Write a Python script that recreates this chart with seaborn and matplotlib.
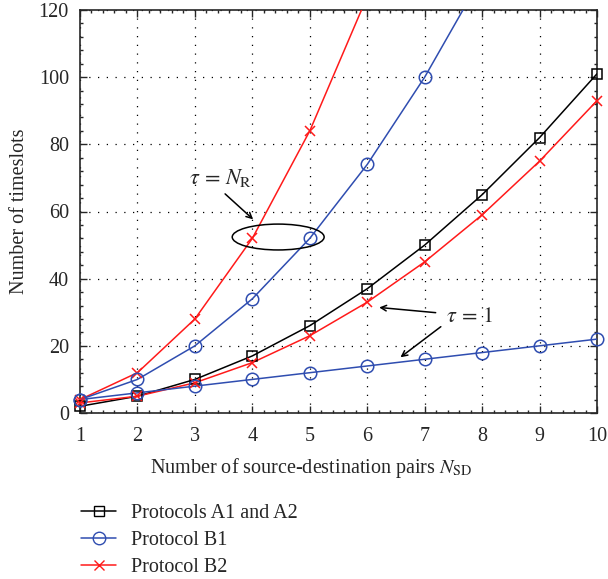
import numpy as np
import pandas as pd
import matplotlib
matplotlib.use("Agg")
import matplotlib.pyplot as plt
from matplotlib.patches import Ellipse
from matplotlib.lines import Line2D
from matplotlib.ticker import MultipleLocator
import seaborn as sns

# data
n_sd = [1, 2, 3, 4, 5, 6, 7, 8, 9, 10]
a12 = [2, 5, 10, 17, 26, 37, 50, 65, 82, 101]
b1_tau1 = [4, 6, 8, 10, 12, 14, 16, 18, 20, 22]
b2_tau1 = [3, 5, 9, 15, 23, 33, 45, 59, 75, 93]
n_b1_nr = [1, 2, 3, 4, 5, 6, 7, 8]
b1_nr = [4, 10, 20, 34, 52, 74, 100, 130]
n_b2_nr = [1, 2, 3, 4, 5, 6]
b2_nr = [4, 12, 28, 52, 84, 124]

black = "black"
blue = "#2f4db0"
red = "#ff1a1a"
styles = {"s": 7.5, "o": 9, "x": 6.5}

sns.set_style("ticks")
plt.rcParams["font.family"] = ["Liberation Serif", "DejaVu Serif"]
plt.rcParams["mathtext.fontset"] = "stix"

fig, ax = plt.subplots(figsize=(6.08, 5.79), dpi=100)
fig.subplots_adjust(left=80/608, right=597/608, top=1-10/579, bottom=1-413/579)

ax.grid(True, which="major", color="black", linestyle=(0, (1, 6)), linewidth=0.9)

def draw(x, y, color, marker, clip_last=False):
    df = pd.DataFrame({"x": x, "y": y})
    sns.lineplot(data=df, x="x", y="y", color=color, linewidth=1.1, ax=ax,
                 legend=False, zorder=3)
    pts = df.iloc[:-1] if clip_last else df
    sns.lineplot(data=pts, x="x", y="y", color=color, linestyle="", ax=ax,
                 marker=marker, markersize=styles[marker], markerfacecolor="none",
                 markeredgecolor=color, markeredgewidth=1.1, legend=False,
                 clip_on=False, zorder=4)

draw(n_b2_nr, b2_nr, red, "x", clip_last=True)
draw(n_b1_nr, b1_nr, blue, "o", clip_last=True)
draw(n_sd, a12, black, "s")
draw(n_sd, b2_tau1, red, "x")
draw(n_sd, b1_tau1, blue, "o")

ax.set_xlim(1, 10)
ax.set_ylim(0, 120)
ax.xaxis.set_major_locator(MultipleLocator(1))
ax.xaxis.set_minor_locator(MultipleLocator(0.2))
ax.yaxis.set_major_locator(MultipleLocator(20))
ax.yaxis.set_minor_locator(MultipleLocator(4))
ax.tick_params(which="both", direction="in", top=True, right=True,
               labelsize=14.5, width=1.0)
ax.tick_params(axis="x", pad=10)
ax.tick_params(axis="y", pad=8)
ax.tick_params(which="major", length=5)
ax.tick_params(which="minor", length=2.5)
for s in ax.spines.values():
    s.set_linewidth(1.2)

ax.set_xlabel(r"Number of source-destination pairs $N_{\mathrm{SD}}$", fontsize=14.5)
ax.xaxis.set_label_coords((311 - 80) / 517, -43 / 403)
ax.set_ylabel("Number of timeslots", fontsize=14.5)
ax.yaxis.set_label_coords(-51 / 517, 0.5)

# annotations
ax.add_patch(Ellipse((4.45, 52.4), 1.6, 7.7, fill=False, edgecolor="black", linewidth=1.1, zorder=5))
ax.text(3.44, 70, r"$\tau\, =\, N_{\mathrm{R}}$", fontsize=16, ha="center", va="center")
ax.annotate("", xy=(4.05, 57.1), xytext=(3.49, 65.8),
            arrowprops=dict(arrowstyle="->", color="black", lw=1.1))
ax.text(7.78, 28.3, r"$\tau\, =\, 1$", fontsize=16, ha="center", va="center")
ax.annotate("", xy=(6.16, 31.5), xytext=(7.24, 29.8),
            arrowprops=dict(arrowstyle="->", color="black", lw=1.1))
ax.annotate("", xy=(6.54, 16.1), xytext=(7.32, 26.2),
            arrowprops=dict(arrowstyle="->", color="black", lw=1.1))

# legend below the axes
handles = [
    Line2D([], [], color=black, marker="s", markerfacecolor="none", markersize=styles["s"], lw=1.1),
    Line2D([], [], color=blue, marker="o", markerfacecolor="none", markersize=styles["o"], lw=1.1),
    Line2D([], [], color=red, marker="x", markersize=styles["x"], lw=1.1),
]
labels = ["Protocols A1 and A2", "Protocol B1", "Protocol B2"]
fig.legend(handles, labels, loc="upper left", bbox_to_anchor=(63/608, 1-486/579),
           frameon=False, fontsize=14.5, handlelength=1.75, labelspacing=0.38,
           handletextpad=0.75)

fig.savefig("out.png", dpi=100)
